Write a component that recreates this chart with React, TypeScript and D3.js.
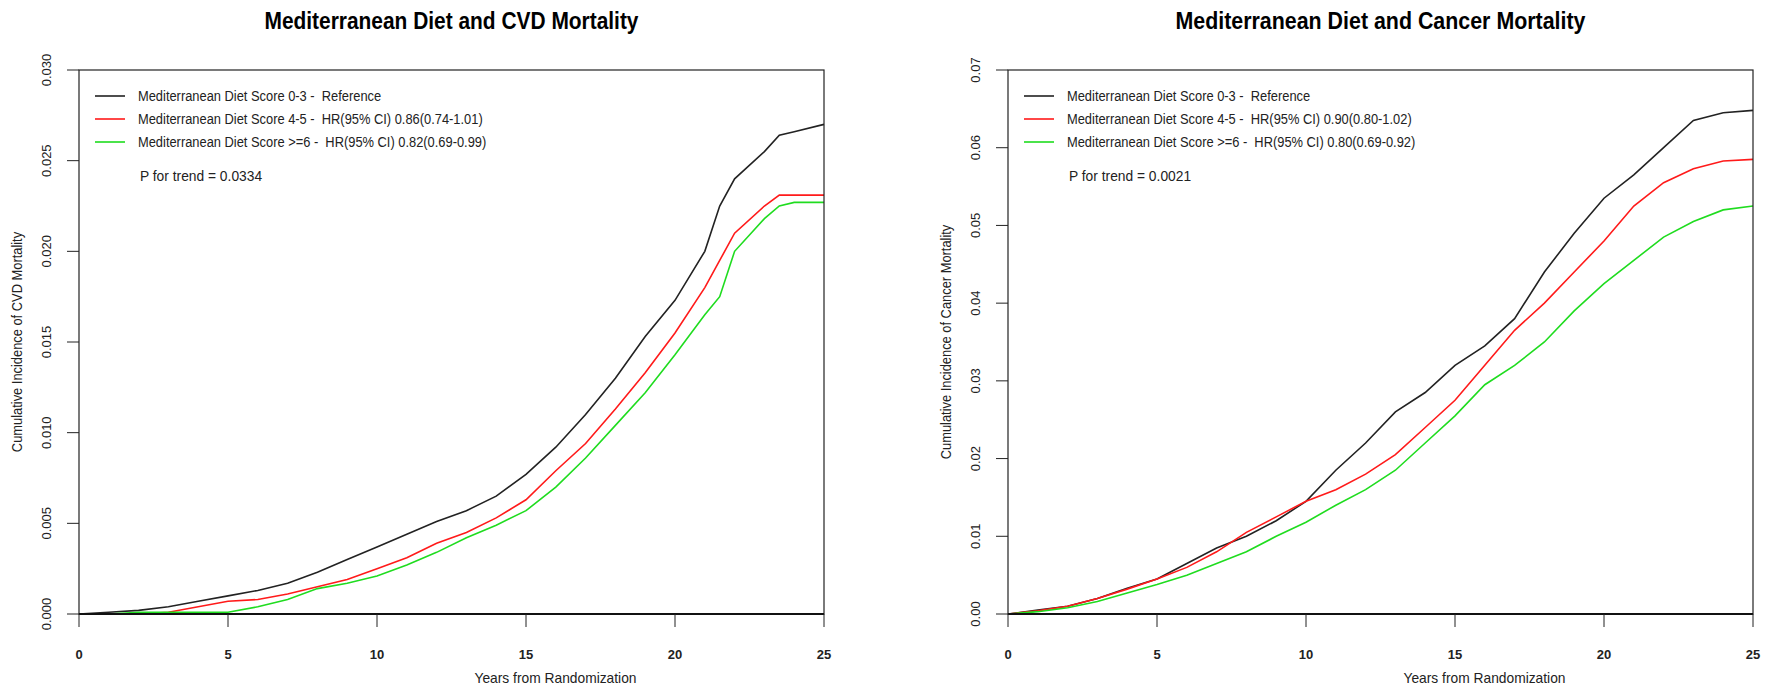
import React from "react";
import * as d3 from "d3";

// CVD panel: years and cumulative incidence
const cvdYears = [0, 1, 2, 3, 4, 5, 6, 7, 8, 9, 10, 11, 12, 13, 14, 15, 16, 17, 18, 19, 20, 21, 21.5, 22, 23, 23.5, 24, 25];
const cvdLow = [0, 0.0001, 0.0002, 0.0004, 0.0007, 0.001, 0.0013, 0.0017, 0.0023, 0.003, 0.0037, 0.0044, 0.0051, 0.0057, 0.0065, 0.0077, 0.0092, 0.011, 0.013, 0.0153, 0.0173, 0.02, 0.0225, 0.024, 0.0255, 0.0264, 0.0266, 0.027];
const cvdMid = [0, 0, 0, 0.0001, 0.0004, 0.0007, 0.0008, 0.0011, 0.0015, 0.0019, 0.0025, 0.0031, 0.0039, 0.0045, 0.0053, 0.0063, 0.0079, 0.0094, 0.0113, 0.0133, 0.0155, 0.018, 0.0195, 0.021, 0.0225, 0.0231, 0.0231, 0.0231];
const cvdHigh = [0, 0, 0.0001, 0.0001, 0.0001, 0.0001, 0.0004, 0.0008, 0.0014, 0.0017, 0.0021, 0.0027, 0.0034, 0.0042, 0.0049, 0.0057, 0.007, 0.0086, 0.0104, 0.0122, 0.0143, 0.0165, 0.0175, 0.02, 0.0218, 0.0225, 0.0227, 0.0227];
const cvdTicks = [0, 0.005, 0.01, 0.015, 0.02, 0.025, 0.03];
const cvdHR = ["Reference", "HR(95% CI) 0.86(0.74-1.01)", "HR(95% CI) 0.82(0.69-0.99)"];

// cancer panel
const cancerYears = [0, 1, 2, 3, 4, 5, 6, 7, 8, 9, 10, 11, 12, 13, 14, 15, 16, 17, 18, 19, 20, 21, 22, 23, 24, 25];
const cancerLow = [0, 0.0005, 0.001, 0.002, 0.0033, 0.0045, 0.0065, 0.0085, 0.01, 0.012, 0.0145, 0.0185, 0.022, 0.026, 0.0285, 0.032, 0.0345, 0.038, 0.044, 0.049, 0.0535, 0.0565, 0.06, 0.0635, 0.0645, 0.0648];
const cancerMid = [0, 0.0004, 0.001, 0.002, 0.0032, 0.0045, 0.006, 0.008, 0.0105, 0.0125, 0.0145, 0.016, 0.018, 0.0205, 0.024, 0.0275, 0.032, 0.0365, 0.04, 0.044, 0.048, 0.0525, 0.0555, 0.0573, 0.0583, 0.0585];
const cancerHigh = [0, 0.0003, 0.0008, 0.0016, 0.0027, 0.0038, 0.005, 0.0065, 0.008, 0.01, 0.0118, 0.014, 0.016, 0.0185, 0.022, 0.0255, 0.0295, 0.032, 0.035, 0.039, 0.0425, 0.0455, 0.0485, 0.0505, 0.052, 0.0525];
const cancerTicks = [0, 0.01, 0.02, 0.03, 0.04, 0.05, 0.06, 0.07];
const cancerHR = ["Reference", "HR(95% CI) 0.90(0.80-1.02)", "HR(95% CI) 0.80(0.69-0.92)"];

const xTicks = [0, 5, 10, 15, 20, 25];
const groups = ["Mediterranean Diet Score 0-3 - ", "Mediterranean Diet Score 4-5 - ", "Mediterranean Diet Score >=6 - "];
const colors = ["#222222", "#ff1a1a", "#1fdc1f"];

const font = "'Liberation Sans', Arial, Helvetica, sans-serif";

function Panel(props: any) {
  const { left, title, titleWidth, yLabel, years, series, yTicks, yMax, hr, pTrend, fmt } = props;
  const top = 70, bottom = 614, w = 745;
  const x = d3.scaleLinear().domain([0, 25]).range([left, left + w]);
  const y = d3.scaleLinear().domain([0, yMax]).range([bottom, top]);
  const line = d3.line<number>()
    .x((d, i) => x(years[i]))
    .y((d) => y(d));

  // R's x11 font is a bit narrower, squeeze the text horizontally
  const squeeze = 0.92;

  return (
    <g>
      <text x={left + w / 2} y={29} textAnchor="middle" fontFamily={font} fontWeight="bold" fontSize={23}
        textLength={titleWidth} lengthAdjust="spacingAndGlyphs">{title}</text>

      {series.map((s: number[], i: number) => (
        <path key={i} d={line(s) || ""} fill="none" stroke={colors[i]} strokeWidth={1.6} />
      ))}

      <rect x={left} y={top} width={w} height={bottom - top} fill="none" stroke="#222" strokeWidth={1.2} />
      <line x1={left} x2={left + w} y1={bottom} y2={bottom} stroke="#111" strokeWidth={2.2} />

      {/* y axis */}
      {yTicks.map((t: number) => (
        <g key={t}>
          <line x1={left - 12} x2={left} y1={y(t)} y2={y(t)} stroke="#222" />
          <text transform={`translate(${left - 28},${y(t)}) rotate(-90)`} textAnchor="middle" fontFamily={font} fontSize={13} fill="#222">{fmt(t)}</text>
        </g>
      ))}
      <text transform={`translate(${left - 57},${(top + bottom) / 2}) rotate(-90) scale(${squeeze},1)`} textAnchor="middle" fontFamily={font} fontSize={14} fill="#222">{yLabel}</text>

      {/* x axis */}
      {xTicks.map((t) => (
        <g key={t}>
          <line x1={x(t)} x2={x(t)} y1={bottom} y2={bottom + 13} stroke="#222" />
          <text x={x(t)} y={659} textAnchor="middle" fontFamily={font} fontWeight="bold" fontSize={13} fill="#222">{t}</text>
        </g>
      ))}
      <text transform={`translate(${left + w / 2 + 104},683) scale(${squeeze},1)`} textAnchor="middle" fontFamily={font} fontSize={15} fill="#222">Years from Randomization</text>

      {/* legend */}
      {groups.map((g, i) => (
        <g key={g}>
          <line x1={left + 16} x2={left + 46} y1={96 + i * 23} y2={96 + i * 23} stroke={colors[i]} strokeWidth={1.6} />
          <text transform={`translate(${left + 59},${101 + i * 23}) scale(${squeeze},1)`} fontFamily={font} fontSize={14} fill="#222" xmlSpace="preserve">{g + " " + hr[i]}</text>
        </g>
      ))}
      <text transform={`translate(${left + 61},181) scale(${squeeze},1)`} fontFamily={font} fontSize={15} fill="#222">{pTrend}</text>
    </g>
  );
}

export default function App() {
  return (
    <svg width={1779} height={691} style={{ position: "absolute", left: 0, top: 0, background: "#fff" }}>
      <Panel
        left={79}
        title="Mediterranean Diet and CVD Mortality"
        titleWidth={374}
        yLabel="Cumulative Incidence of CVD Mortality"
        years={cvdYears}
        series={[cvdLow, cvdMid, cvdHigh]}
        yTicks={cvdTicks}
        yMax={0.03}
        hr={cvdHR}
        pTrend="P for trend = 0.0334"
        fmt={d3.format(".3f")}
      />
      <Panel
        left={1008}
        title="Mediterranean Diet and Cancer Mortality"
        titleWidth={410}
        yLabel="Cumulative Incidence of Cancer Mortality"
        years={cancerYears}
        series={[cancerLow, cancerMid, cancerHigh]}
        yTicks={cancerTicks}
        yMax={0.07}
        hr={cancerHR}
        pTrend="P for trend = 0.0021"
        fmt={d3.format(".2f")}
      />
    </svg>
  );
}
